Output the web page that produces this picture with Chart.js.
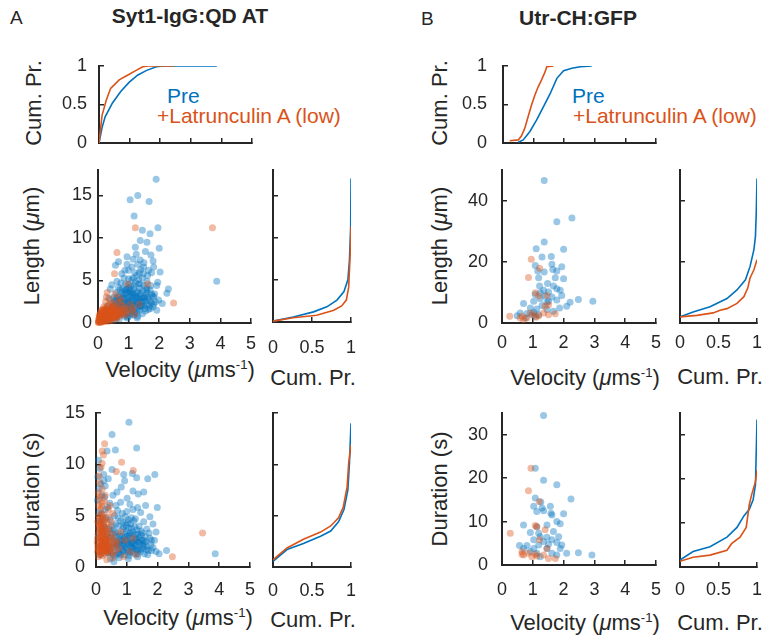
<!DOCTYPE html>
<html>
<head>
<meta charset="utf-8">
<script src="https://cdn.jsdelivr.net/npm/chart.js@4.4.0/dist/chart.umd.min.js"></script>
<style>
  body { margin: 0; background: #fff; width: 763px; height: 637px; position: relative; overflow: hidden;
         font-family: "Liberation Sans", Arial, sans-serif; }
  .txt { position: absolute; line-height: 1; white-space: nowrap; color: #262626; }
  .bold { font-weight: bold; }
  .ax { position: absolute; line-height: 1; white-space: nowrap; color: #262626; font-size: 22px; transform: translate(-50%, -50%); }
  .ay { position: absolute; line-height: 1; white-space: nowrap; color: #262626; font-size: 22px; transform: translate(-50%, -50%) rotate(-90deg); }
  sup { font-size: 0.6em; line-height: 0; vertical-align: 0.6em; }
</style>
</head>
<body>
<div class="txt" style="left:10px;top:8px;font-size:19px">A</div>
<div class="txt bold" style="left:190px;top:5px;font-size:21px;transform:translateX(-50%)">Syt1-IgG:QD AT</div>
<div class="txt" style="left:421px;top:9px;font-size:19px">B</div>
<div class="txt bold" style="left:578px;top:7px;font-size:21px;transform:translateX(-50%)">Utr-CH:GFP</div>
<div class="txt" style="left:167px;top:85px;font-size:21px;color:#0072BD">Pre</div>
<div class="txt" style="left:157px;top:105px;font-size:21px;color:#D95319">+Latrunculin A (low)</div>
<div class="txt" style="left:572px;top:85px;font-size:21px;color:#0072BD">Pre</div>
<div class="txt" style="left:573px;top:105px;font-size:21px;color:#D95319">+Latrunculin A (low)</div>

<div class="ay" style="left:34px;top:103px">Cum. Pr.</div>
<div class="ay" style="left:32px;top:246px">Length (<i>μ</i>m)</div>
<div class="ay" style="left:32px;top:490px">Duration (s)</div>
<div class="ax" style="left:180px;top:370px">Velocity (<i>μ</i>ms<sup>-1</sup>)</div>
<div class="ax" style="left:313px;top:378px">Cum. Pr.</div>
<div class="ax" style="left:178px;top:618px">Velocity (<i>μ</i>ms<sup>-1</sup>)</div>
<div class="ax" style="left:313px;top:620px">Cum. Pr.</div>

<div class="ay" style="left:440px;top:103px">Cum. Pr.</div>
<div class="ay" style="left:440px;top:246px">Length (<i>μ</i>m)</div>
<div class="ay" style="left:440px;top:489px">Duration (s)</div>
<div class="ax" style="left:585px;top:378px">Velocity (<i>μ</i>ms<sup>-1</sup>)</div>
<div class="ax" style="left:720px;top:377px">Cum. Pr.</div>
<div class="ax" style="left:585px;top:623px">Velocity (<i>μ</i>ms<sup>-1</sup>)</div>
<div class="ax" style="left:720px;top:623px">Cum. Pr.</div>
<script>
// --- data ---
// cumulative curves: [velocity, cum. prob.] for the top plots, [cum. prob., value] for the side plots
const velCdfPreA = [[0,0],[0.1,0.2],[0.2,0.34],[0.44,0.52],[0.71,0.67],[0.99,0.79],[1.26,0.88],[1.54,0.94],[1.87,0.99],[2.1,1],[3.85,1]];
const velCdfLatA = [[0,0],[0.1,0.36],[0.24,0.56],[0.38,0.71],[0.66,0.82],[0.93,0.88],[1.2,0.94],[1.43,0.99],[1.6,1],[2.45,1]];
const velCdfPreB = [[0.5,0.01],[0.66,0.04],[0.88,0.15],[1.1,0.3],[1.32,0.47],[1.54,0.64],[1.76,0.84],[1.98,0.94],[2.25,0.97],[2.53,0.99],[2.9,1]];
const velCdfLatB = [[0.22,0.03],[0.5,0.04],[0.6,0.09],[0.71,0.19],[0.82,0.34],[0.93,0.49],[1.04,0.62],[1.15,0.73],[1.26,0.82],[1.37,0.92],[1.43,0.99],[1.65,1]];

const lenCdfPreA = [[0,0.1],[0.26,0.6],[0.52,1.2],[0.69,1.8],[0.82,2.6],[0.91,3.6],[0.96,5.0],[0.98,7.3],[0.996,11.3],[1,17]];
const lenCdfLatA = [[0,0.1],[0.26,0.5],[0.56,0.8],[0.78,1.4],[0.88,1.9],[0.94,2.6],[0.97,4.1],[0.99,8.1],[1,11.3]];
const durCdfPreA = [[0,0.55],[0.18,1.7],[0.39,2.3],[0.61,3.0],[0.74,3.5],[0.84,4.4],[0.91,5.6],[0.96,7.5],[0.98,10.1],[1,14.0]];
const durCdfLatA = [[0,0.7],[0.18,1.85],[0.39,2.7],[0.61,3.4],[0.74,4.0],[0.84,4.8],[0.9,5.8],[0.95,7.8],[0.97,10.1],[1,11.9]];
const lenCdfPreB = [[0,2.0],[0.17,3.6],[0.39,5.3],[0.61,8.0],[0.74,10.8],[0.85,14.1],[0.91,18.5],[0.96,24],[0.98,28.4],[0.99,35.6],[1,47.2]];
const lenCdfLatB = [[0,2.0],[0.22,2.5],[0.43,3.3],[0.52,4.2],[0.61,4.7],[0.74,6.4],[0.83,8.6],[0.88,11.4],[0.91,14.7],[0.96,17.4],[1,20.7]];
const durCdfPreB = [[0,1.6],[0.17,3.5],[0.39,4.6],[0.61,6.8],[0.74,9.0],[0.83,11.6],[0.9,13.1],[0.95,15.3],[0.98,18.7],[1,33.5]];
const durCdfLatB = [[0,1.3],[0.17,2.2],[0.39,2.7],[0.61,3.8],[0.67,5.3],[0.78,6.8],[0.86,9.0],[0.9,14.2],[0.93,16.4],[0.98,19.4],[1,22]];

// scatter points: [velocity, length] and [velocity, duration]
const lenPreA = [[1.90,16.9],[1.05,14.5],[1.30,15.0],[1.67,14.3],[1.18,12.6],[1.96,11.2],[1.38,9.7],[1.60,9.5],[2.0,8.8],[1.22,8.9],
  [0.95,7.8],[0.67,7.2],[0.57,6.8],[1.73,8.0],[1.38,7.4],[2.03,6.0],[1.11,6.6],[1.49,6.6],[1.82,6.6],[0.78,5.8],
  [1.27,5.6],[1.62,5.6],[1.0,5.2],[3.88,4.9],[1.38,4.6],[1.92,4.4],[2.30,4.0],[2.25,3.5],[0.40,4.0],[0.67,4.2],
  [0.95,4.0],[1.60,3.6],[1.82,3.1],[1.98,2.7],[1.92,1.5],[1.71,1.7],
  [0.25,0.6],[0.32,1.1],[0.38,0.8],[0.42,1.6],[0.45,2.3],[0.48,1.2],[0.52,0.9],[0.55,1.9],[0.58,2.8],[0.6,1.4],
  [0.62,0.7],[0.65,2.1],[0.68,3.2],[0.7,1.7],[0.72,1.0],[0.75,2.5],[0.78,3.6],[0.8,1.3],[0.82,2.0],[0.85,2.9],
  [0.88,0.8],[0.9,1.6],[0.92,3.9],[0.95,2.4],[0.98,1.1],[1.0,3.1],[1.02,1.8],[1.05,2.7],[1.08,4.3],[1.1,1.4],
  [1.12,2.2],[1.15,3.4],[1.18,0.9],[1.2,2.0],[1.22,4.8],[1.25,2.9],[1.28,1.6],[1.3,3.7],[1.33,2.4],[1.36,4.1],
  [1.4,1.9],[1.43,3.0],[1.46,2.5],[1.5,4.4],[1.53,1.7],[1.56,3.3],[1.6,2.2],[1.65,2.8],[1.7,3.9],[1.75,2.4],
  [1.8,1.9],[1.85,3.4],[0.35,0.4],[0.4,0.5],[0.5,0.6],[0.55,0.4],[0.65,1.0],[0.7,0.5],[0.75,1.2],[0.85,1.5],
  [0.9,2.2],[0.95,0.6],[1.0,1.3],[1.05,0.9],[1.1,2.6],[1.15,1.6],[1.25,1.2],[1.3,0.8],[1.35,1.5],[1.45,1.1],
  [1.55,2.6],[1.2,5.9],[1.1,5.1],[0.9,4.6],[1.45,5.3],[1.6,4.9],[1.75,5.9],[1.4,6.3],[1.0,6.2],[1.3,6.9],
  [0.85,5.3],[0.6,3.6],[0.5,3.0],[0.45,4.5],[1.65,6.2],[1.5,7.1],[1.15,7.5],[1.8,7.3],[1.95,4.8],[2.1,2.3],
  [0.3,2.0],[0.35,2.9],[0.28,1.5],[0.2,0.9],[0.15,0.3],[0.22,0.5],[0.75,4.7],[1.05,3.8],[1.25,3.6],[1.38,2.1],
  [0.6,2.5],[0.8,4.0],
  [0.52,2.1],[0.58,1.5],[0.63,3.0],[0.67,1.9],[0.73,2.8],[0.77,1.5],[0.83,3.3],[0.87,2.4],[0.93,1.9],[0.97,3.6],
  [1.03,2.2],[1.07,3.3],[1.13,2.9],[1.17,4.0],[1.23,3.1],[1.27,2.2],[1.32,4.6],[1.37,3.3],[1.42,2.6],[1.47,3.8],
  [1.52,3.0],[1.58,4.1],[1.62,3.1],[1.68,2.0],[1.72,4.4],[1.78,3.2],[1.88,2.5],[0.98,2.7],[1.12,3.6],[1.28,2.5],
  [1.08,1.7],[0.9,2.9],[0.8,2.4],[0.7,2.3],[1.2,3.2],[1.35,2.8],[1.5,2.1],[1.0,4.5],[1.15,5.3],[1.35,5.9],
  [0.95,6.9],[1.25,8.1],[1.55,8.4],[1.7,10.5],[1.45,10.9],[0.88,6.2],
  [0.45,1.0],[0.5,1.8],[0.55,2.6],[0.6,0.9],[0.65,1.6],[0.7,2.7],[0.75,1.9],[0.8,3.0],[0.85,1.1],[0.9,3.4],
  [0.95,1.7],[1.0,2.4],[1.05,3.5],[1.1,1.9],[1.15,2.5],[1.2,1.3],[1.25,2.3],[1.3,3.0],[1.35,1.9],[1.4,3.5],
  [1.45,2.0],[1.5,2.9],[1.55,1.4],[1.6,3.9],[1.65,1.6],[1.7,2.6],[1.75,3.4],[1.82,2.2],[0.88,3.8],[1.02,4.1],
  [1.18,4.4],[1.33,5.1],[1.48,5.8],[0.72,3.9],[0.62,4.9],[1.12,1.1],[0.98,0.7],[1.28,0.6]];
const lenLatA = [[1.22,11.2],[3.74,11.2],[0.62,8.3],[0.54,5.8],[2.47,2.35],[0.27,3.05],[1.62,4.6],[1.35,2.2],[1.15,1.8],
  [0.05,0.2],[0.08,0.5],[0.1,0.3],[0.12,0.8],[0.14,0.4],[0.16,1.1],[0.18,0.6],[0.2,0.9],[0.22,1.4],[0.24,0.5],
  [0.26,1.0],[0.28,1.7],[0.3,0.7],[0.32,1.2],[0.34,2.0],[0.36,0.9],[0.38,1.5],[0.4,0.6],[0.42,1.1],[0.44,1.8],
  [0.46,0.8],[0.48,1.3],[0.5,2.3],[0.52,1.0],[0.55,1.6],[0.58,0.7],[0.6,1.2],[0.63,1.9],[0.66,1.4],[0.7,1.0],
  [0.74,1.7],[0.78,1.2],[0.82,2.0],[0.86,1.4],[0.9,0.9],[0.95,1.6],[1.0,1.2],[1.05,2.2],[1.12,1.5],[1.2,1.0],
  [0.06,0.9],[0.09,1.3],[0.11,0.6],[0.13,1.6],[0.15,0.2],[0.17,0.8],[0.19,1.9],[0.21,0.4],[0.23,1.2],[0.25,2.5],
  [0.27,0.3],[0.29,0.8],[0.31,1.5],[0.33,0.5],[0.35,1.1],[0.37,2.2],[0.39,0.4],[0.41,0.9],[0.43,1.4],[0.45,0.3],
  [0.47,2.0],[0.49,0.7],[0.53,1.4],[0.57,1.1],[0.61,0.5],[0.65,2.4],[0.69,0.8],[0.73,1.3],[0.04,0.6],[0.07,0.1],
  [0.1,1.0],[0.18,1.4],[0.26,0.2],[0.34,0.2],[0.4,2.8],[0.56,3.4],[0.76,2.6],[0.97,4.6],[0.7,3.0],[0.3,3.6],
  [0.02,0.1],[0.03,0.3],[0.05,0.7],[0.07,0.4],[0.09,0.2],[0.11,1.1],[0.12,0.1],[0.14,0.7],[0.16,0.4],[0.19,0.2],
  [0.21,1.1],[0.24,0.8],[0.28,1.2],[0.32,0.9],[0.36,1.4],[0.4,1.2],[0.44,0.9],[0.5,1.6],[0.54,0.8],[0.59,1.5],
  [0.64,1.1],[0.08,0.8],[0.13,0.3],[0.2,0.5],[0.25,1.6],[0.3,1.1],[0.35,0.6],[0.42,1.5],[0.47,1.1],[0.52,1.9],
  [0.62,0.9],[0.68,1.6],[0.8,1.0],[0.88,1.8],
  [0.01,0.05],[0.02,0.4],[0.03,0.15],[0.04,0.9],[0.05,0.45],[0.06,0.25],[0.07,0.7],[0.08,1.1],[0.09,0.55],[0.1,0.15],
  [0.11,0.85],[0.12,1.4],[0.13,0.55],[0.14,1.0],[0.15,0.65],[0.16,1.5],[0.17,0.3],[0.18,1.1],[0.19,0.7],[0.2,1.3],
  [0.22,0.7],[0.23,1.7],[0.24,1.1],[0.26,0.6],[0.27,1.4],[0.29,1.0],[0.31,0.4],[0.33,1.3],[0.35,0.8],[0.38,1.1],
  [0.41,0.7],[0.43,1.2],[0.46,0.6],[0.5,0.9],[0.55,0.6],[0.58,1.3]];
const durPreA = [[1.07,14.1],[0.52,12.9],[1.32,11.6],[0.36,11.3],[0.63,11.4],[0.52,9.5],[0.9,9.0],[1.68,8.6],[1.91,9.0],[1.32,8.7],
  [0.93,8.4],[1.2,7.4],[0.68,7.3],[1.37,7.1],[1.01,6.7],[0.8,6.3],[1.61,6.0],[1.99,5.8],[1.2,5.6],[3.87,1.3],
  [2.29,1.6],[2.05,1.3],[0.08,10.4],[0.12,9.6],[0.06,8.8],[0.15,8.1],[0.1,7.6],[0.25,8.4],[0.3,7.9],[0.4,8.6],
  [0.2,7.0],[0.05,6.5],[0.28,6.8],[0.45,6.2],[0.55,7.0],[0.38,5.8],[0.7,5.5],[0.85,5.2],[1.0,5.4],[1.1,6.1],
  [1.45,5.3],[1.75,4.9],[1.85,4.2],[1.95,3.4],[1.8,2.6],[1.65,3.7],[1.55,4.4],[1.4,4.0],
  [0.15,1.2],[0.2,2.5],[0.25,4.1],[0.3,1.8],[0.35,3.2],[0.4,2.2],[0.45,4.6],[0.5,1.5],[0.55,3.6],[0.6,2.8],
  [0.62,1.1],[0.65,4.2],[0.7,2.0],[0.72,3.3],[0.75,1.4],[0.78,2.7],[0.8,4.5],[0.83,1.8],[0.85,3.0],[0.88,2.3],
  [0.9,3.9],[0.92,1.2],[0.95,2.6],[0.98,3.5],[1.0,1.7],[1.02,4.3],[1.05,2.2],[1.08,3.1],[1.1,1.4],[1.12,2.8],
  [1.15,3.8],[1.18,1.9],[1.2,2.5],[1.23,4.5],[1.25,1.3],[1.28,3.2],[1.3,2.1],[1.33,3.6],[1.36,1.6],[1.4,2.9],
  [1.43,2.2],[1.46,3.5],[1.5,1.8],[1.53,2.6],[1.57,1.3],[1.6,3.0],[1.65,2.0],[1.7,1.6],[1.75,2.8],[1.85,1.9],
  [1.95,1.5],[0.58,1.9],[0.68,2.5],[0.73,1.6],[0.82,2.1],[0.87,1.5],[0.93,2.9],[0.97,1.9],[1.03,2.6],[1.07,1.1],
  [1.13,2.0],[1.17,1.5],[1.22,2.3],[1.27,2.7],[1.32,1.7],[1.38,2.4],[1.48,2.6],[0.42,3.7],[0.48,2.9],[0.52,4.0],
  [0.33,4.8],[0.18,5.2],[0.22,3.4],[0.12,4.5],[0.08,3.0],[0.28,2.7],[0.38,1.4],[0.47,0.8],[0.58,0.5],[0.75,0.9],
  [1.05,0.8],[1.35,1.0],[0.95,4.9],[0.6,5.0],[1.15,4.8],
  [0.62,3.4],[0.67,2.2],[0.72,4.8],[0.77,3.1],[0.82,2.5],[0.87,3.7],[0.92,2.1],[0.97,4.1],[1.02,3.0],[1.06,3.8],
  [1.11,2.4],[1.16,3.2],[1.21,1.8],[1.26,3.9],[1.31,2.6],[1.36,3.2],[1.41,1.7],[1.47,3.1],[1.52,2.2],[1.58,2.4],
  [1.63,1.7],[1.72,3.3],[1.78,2.2],[1.9,2.6],[0.55,2.4],[0.5,3.3],[0.45,1.8],[0.4,2.9],[0.35,2.0],[0.3,3.8],
  [0.25,2.2],[0.2,4.6],[0.15,3.6],[0.1,5.3],[0.12,2.0],[0.3,5.6],[0.65,6.0],[1.05,4.6],[1.35,5.8],[0.82,7.8],
  [1.55,7.3],[1.18,9.1],[0.25,9.0],
  [0.55,1.2],[0.6,2.2],[0.65,3.0],[0.7,1.3],[0.75,2.3],[0.8,1.2],[0.85,2.6],[0.9,1.6],[0.95,3.2],[1.0,2.3],
  [1.05,1.5],[1.1,3.3],[1.15,2.3],[1.2,3.4],[1.25,2.0],[1.3,2.8],[1.35,1.3],[1.4,2.4],[1.45,1.5],[1.5,3.3],
  [1.55,2.0],[1.62,2.5],[1.68,1.2],[1.8,1.6],[0.72,4.0],[0.88,4.3],[1.12,4.2],[1.28,4.7],[0.4,1.4],[0.33,2.6]];
const durLatA = [[0.28,12.0],[0.2,11.3],[0.24,10.9],[0.16,9.7],[0.83,10.2],[1.21,9.4],[0.66,9.3],[3.46,3.3],[2.48,1.0],[0.12,8.2],
  [0.2,7.6],[0.3,7.0],[0.1,6.6],[0.45,6.0],[0.55,5.2],[0.4,5.6],[1.3,1.2],[1.1,1.5],[0.9,1.0],[0.75,1.8],
  [0.95,2.6],[0.65,2.3],[1.2,2.8],[0.8,3.4],[0.35,0.7],[0.55,0.9],
  [0.05,1.5],[0.07,3.2],[0.09,5.0],[0.1,2.1],[0.12,4.1],[0.13,1.2],[0.14,3.6],[0.15,5.6],[0.16,2.6],[0.17,4.5],
  [0.18,1.7],[0.19,3.0],[0.2,6.2],[0.21,2.2],[0.22,4.0],[0.23,1.4],[0.24,3.4],[0.25,5.1],[0.26,2.7],[0.27,1.9],
  [0.28,4.6],[0.29,3.1],[0.3,1.3],[0.31,2.4],[0.32,3.8],[0.33,1.8],[0.35,2.9],[0.36,4.3],[0.38,2.1],[0.4,3.3],
  [0.42,1.6],[0.44,2.6],[0.46,3.9],[0.48,1.9],[0.5,2.8],[0.53,1.4],[0.56,3.2],[0.6,2.0],[0.63,1.5],[0.7,2.5],
  [0.08,1.0],[0.11,2.8],[0.14,2.0],[0.17,3.3],[0.2,1.1],[0.23,2.9],[0.26,3.9],[0.29,2.2],[0.34,1.5],[0.37,3.5],
  [0.06,4.4],[0.09,6.0],[0.13,6.9],[0.18,5.9],[0.22,4.8],[0.27,6.4],[0.04,2.4],[0.15,4.3],[0.39,4.9],[0.5,4.4],
  [0.06,2.0],[0.08,3.8],[0.1,1.6],[0.11,4.8],[0.13,2.4],[0.15,1.4],[0.16,3.9],[0.19,2.5],[0.21,3.5],[0.23,2.0],
  [0.25,4.4],[0.27,2.4],[0.3,3.4],[0.32,1.6],[0.34,2.7],[0.37,1.9],[0.41,2.4],[0.45,1.4],[0.52,2.2],[0.58,2.6],
  [0.1,8.9],[0.07,7.2],[0.2,10.1],[0.17,5.1],
  [0.05,2.8],[0.07,1.8],[0.09,4.2],[0.11,3.4],[0.12,1.5],[0.14,2.9],[0.16,1.9],[0.18,3.8],[0.19,2.1],[0.21,1.6],
  [0.22,2.7],[0.24,1.8],[0.26,3.2],[0.28,1.7],[0.3,2.6],[0.33,2.3],[0.36,1.6],[0.4,2.0]];
const lenPreB = [[1.37,46.6],[2.27,34.3],[1.78,33.1],[1.37,26.5],[2.0,24.1],[1.11,24.3],[1.30,21.6],[1.6,21.7],[1.08,18.8],[1.62,19.2],
  [1.94,18.4],[1.65,17.5],[1.16,17.0],[1.37,16.7],[1.78,17.0],[1.19,14.8],[1.73,14.8],[2.0,14.5],[1.48,12.9],[1.22,12.1],
  [1.67,12.1],[1.78,11.2],[1.35,10.7],[1.51,10.1],[1.89,10.7],[1.08,9.3],[1.40,8.8],[1.62,8.5],[1.94,9.0],[1.24,7.9],
  [1.03,7.1],[1.51,7.1],[1.78,7.5],[2.21,6.8],[2.48,7.7],[2.95,7.1],[2.1,5.5],[1.30,5.7],[0.70,6.4],[0.92,4.9],
  [1.13,4.6],[1.46,4.4],[0.59,3.3],[0.81,3.1],[1.03,3.5],[0.49,2.4],[0.76,1.6],[1.08,2.2],[1.19,2.7],[1.67,3.8],
  [1.87,4.9],[1.46,6.8],[1.24,9.9],[0.97,2.7]];
const lenLatB = [[0.95,20.8],[1.22,17.9],[0.86,14.9],[1.08,9.9],[1.19,8.8],[1.46,9.0],[1.40,5.5],[1.51,6.0],[0.25,2.2],[0.65,2.2],
  [0.92,3.3],[1.03,2.7],[1.19,2.4],[1.51,2.7],[1.73,3.0],[1.35,3.3],[0.59,1.6],[0.81,1.6],[1.11,1.9],[0.70,1.1]];
const durPreB = [[1.35,34.4],[1.08,22.3],[1.35,19.5],[1.78,18.5],[2.24,15.2],[1.08,15.4],[1.26,14.5],[1.03,13.5],[1.30,13.1],[1.57,13.5],
  [1.35,12.5],[1.13,12.3],[1.59,11.9],[2.0,11.8],[1.62,11.5],[1.78,10.0],[1.46,9.2],[0.70,9.2],[1.89,9.5],[1.13,8.8],
  [0.92,7.5],[1.19,7.3],[1.67,7.7],[1.24,6.5],[1.46,6.4],[1.84,6.5],[1.62,5.8],[1.03,5.8],[1.35,5.4],[0.57,4.5],
  [0.81,4.5],[1.19,4.6],[1.51,4.8],[1.78,5.2],[1.03,3.8],[1.46,3.8],[2.1,2.7],[2.48,2.8],[2.92,2.3],[1.62,2.7],
  [1.13,2.7],[1.24,1.9],[1.78,2.3],[0.70,3.8],[0.92,3.1],[1.94,4.6],[1.89,3.8]];
const durLatB = [[0.94,22.3],[0.86,17.1],[1.21,14.6],[0.27,7.3],[1.08,9.1],[1.13,8.8],[1.40,8.1],[1.22,5.8],[1.46,3.8],[0.65,3.1],
  [0.86,2.7],[1.08,2.5],[0.65,2.5],[0.97,1.9],[1.51,1.5],[1.73,1.5],[0.70,2.3],[1.13,2.1],[1.35,2.3]];

// axis ticks
const velTicks = [0, 1, 2, 3, 4, 5];
const cumTicks = [0, 0.5, 1];
const lenTicksA = [0, 5, 10, 15];
const durTicksA = [0, 5, 10, 15];
const lenTicksB = [0, 20, 40];
const durTicksB = [0, 10, 20, 30];

// --- styling ---
const ink = '#262626';
const blue = '#0072BD', orange = '#D95319';
const blueFill = 'rgba(0,114,189,0.4)', orangeFill = 'rgba(217,83,25,0.4)';
Chart.defaults.font.family = '"Liberation Sans", Arial, sans-serif';
Chart.defaults.color = ink;

const pts = arr => arr.map(([x, y]) => ({ x, y }));

function scale(min, max, ticks, o) {
    return {
        type: 'linear', min: min, max: max,
        afterBuildTicks: s => { s.ticks = ticks.map(v => ({ value: v })); },
        afterFit: s => {
            if (s.isHorizontal()) s.height = o.size; else s.width = o.size;
            // tick padding should not eat into the plot box
            s.paddingTop = s.paddingBottom = s.paddingLeft = s.paddingRight = 0;
        },
        border: { display: true, color: ink, width: 2 },
        grid: { drawOnChartArea: false, drawTicks: true, tickLength: -5, color: ink, lineWidth: 1.5 },
        ticks: { display: !!o.labels, color: ink, font: { size: 18 }, padding: o.pad || 0,
                 maxRotation: 0, autoSkip: false, callback: v => String(v) },
        title: { display: false }
    };
}

function lineSet(data, color, order) {
    return { data: pts(data), showLine: true, borderColor: color, borderWidth: 1.6,
             pointRadius: 0, fill: false, order: order };
}
function dotSet(data, fillColor, order) {
    return { data: pts(data), showLine: false, backgroundColor: fillColor, borderWidth: 0,
             pointRadius: 3.5, pointHoverRadius: 3.5, order: order, clip: false };
}

// p: chart area (x, y, w, h), yW/xH = room for the left/bottom axes
function panel(p, xScale, yScale, datasets) {
    const padTop = 12, padRight = p.padRight || 10;
    const left = p.x - p.yW, top = p.y - padTop;
    const W = p.yW + p.w + padRight, H = padTop + p.h + p.xH;
    const canvas = document.createElement('canvas');
    canvas.width = W; canvas.height = H;
    canvas.style.cssText = `position:absolute;left:${left}px;top:${top}px;width:${W}px;height:${H}px`;
    document.body.appendChild(canvas);
    new Chart(canvas, {
        type: 'scatter',
        data: { datasets: datasets },
        options: {
            responsive: false, animation: false, events: [],
            layout: { padding: { top: padTop, right: padRight, left: 0, bottom: 0 } },
            plugins: { legend: { display: false }, tooltip: { enabled: false } },
            scales: { x: xScale, y: yScale }
        }
    });
}

// --- Column A ---
panel({ x: 99, y: 66, w: 153, h: 77, yW: 50, xH: 8 },
    scale(0, 5, velTicks, { size: 8 }),
    scale(0, 1, cumTicks, { size: 50, labels: true, pad: 17 }),
    [lineSet(velCdfPreA, blue, 2), lineSet(velCdfLatA, orange, 1)]);

panel({ x: 98, y: 170, w: 153, h: 153, yW: 50, xH: 34 },
    scale(0, 5, velTicks, { size: 34, labels: true, pad: 15 }),
    scale(0, 18, lenTicksA, { size: 50, labels: true, pad: 11 }),
    [dotSet(lenPreA, blueFill, 2), dotSet(lenLatA, orangeFill, 1)]);

panel({ x: 273, y: 170, w: 78, h: 152, yW: 14, xH: 40 },
    scale(0, 1, cumTicks, { size: 40, labels: true, pad: 20 }),
    scale(0, 18, lenTicksA, { size: 14 }),
    [lineSet(lenCdfPreA, blue, 2), lineSet(lenCdfLatA, orange, 1)]);

panel({ x: 96, y: 413, w: 154, h: 154, yW: 50, xH: 36 },
    scale(0, 5, velTicks, { size: 36, labels: true, pad: 17 }),
    scale(0, 15, durTicksA, { size: 50, labels: true, pad: 16 }),
    [dotSet(durPreA, blueFill, 2), dotSet(durLatA, orangeFill, 1)]);

panel({ x: 273, y: 413, w: 78, h: 154, yW: 14, xH: 38 },
    scale(0, 1, cumTicks, { size: 38, labels: true, pad: 18 }),
    scale(0, 15, durTicksA, { size: 14 }),
    [lineSet(durCdfPreA, blue, 2), lineSet(durCdfLatA, orange, 1)]);

// --- Column B ---
panel({ x: 503, y: 66, w: 153, h: 77, yW: 55, xH: 8 },
    scale(0, 5, velTicks, { size: 8 }),
    scale(0, 1, cumTicks, { size: 55, labels: true, pad: 21 }),
    [lineSet(velCdfPreB, blue, 2), lineSet(velCdfLatB, orange, 1)]);

panel({ x: 502, y: 170, w: 154, h: 153, yW: 50, xH: 34 },
    scale(0, 5, velTicks, { size: 34, labels: true, pad: 14 }),
    scale(0, 50, lenTicksB, { size: 50, labels: true, pad: 19 }),
    [dotSet(lenPreB, blueFill, 2), dotSet(lenLatB, orangeFill, 1)]);

panel({ x: 680, y: 170, w: 77, h: 153, yW: 14, xH: 34, padRight: 6 },
    scale(0, 1, cumTicks, { size: 34, labels: true, pad: 14 }),
    scale(0, 50, lenTicksB, { size: 14 }),
    [lineSet(lenCdfPreB, blue, 2), lineSet(lenCdfLatB, orange, 1)]);

panel({ x: 502, y: 413, w: 154, h: 152, yW: 50, xH: 38 },
    scale(0, 5, velTicks, { size: 38, labels: true, pad: 19 }),
    scale(0, 35, durTicksB, { size: 50, labels: true, pad: 19 }),
    [dotSet(durPreB, blueFill, 2), dotSet(durLatB, orangeFill, 1)]);

panel({ x: 680, y: 413, w: 77, h: 154, yW: 14, xH: 36, padRight: 6 },
    scale(0, 1, cumTicks, { size: 36, labels: true, pad: 17 }),
    scale(0, 35, durTicksB, { size: 14 }),
    [lineSet(durCdfPreB, blue, 2), lineSet(durCdfLatB, orange, 1)]);
</script>
</body>
</html>
